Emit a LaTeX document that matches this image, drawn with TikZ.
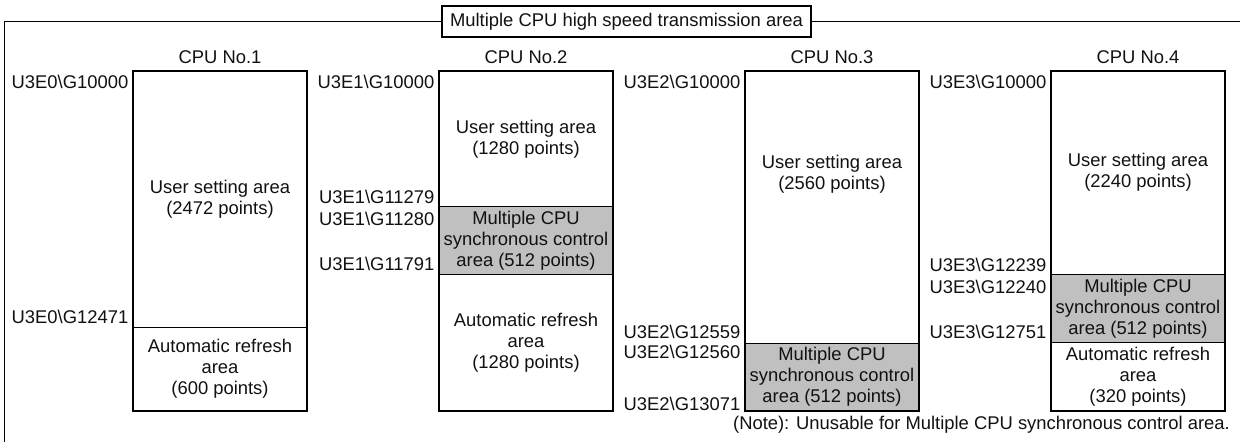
\documentclass[tikz,border=0pt]{standalone}
\usepackage{fontspec}
\setmainfont{Liberation Sans}
\definecolor{syncgray}{HTML}{C0C0C0}
\definecolor{txt}{HTML}{111111}
\newcommand\fs{\fontsize{18.4}{21}\selectfont}
\tikzset{
  region/.style={draw, line width=1pt, minimum width=174, minimum height=#1,
    anchor=north west, inner sep=0pt, outer sep=0pt, align=center, font=\fs, text=txt},
  sync/.style={region=#1, fill=syncgray},
  addr/.style={anchor=base east, inner sep=0pt, font=\fs, text=txt},
  cpulabel/.style={anchor=base, inner sep=0pt, font=\fs, text=txt},
  plain/.style={inner sep=0pt, align=center, font=\fs, text=txt},
  cpubox/.style={draw, line width=2pt},
  frameline/.style={draw, line width=1.4pt},
}
\begin{document}
\begin{tikzpicture}[x=1pt,y=-1pt]
\useasboundingbox (0,0) rectangle (1240,442);

% frame and title
\node[draw, line width=1.2pt, fill=white, minimum width=369, minimum height=31, inner sep=0pt, font=\fs, text=txt] (title) at (626.5,21.5) {Multiple CPU high speed transmission area};
\coordinate (fl) at (4.5,21.5);
\coordinate (fb) at (4.5,442);
\coordinate (fr) at (1240,21.5);
\draw[frameline] (title.west) -- (fl) -- (fb);
\draw[frameline] (title.east) -- (fr);

% CPU No.1
\node[cpulabel] (l1) at (220,63.5) {CPU No.1};
\node[region=256.3] (c1u) at (133,71) {User setting area\\(2472 points)};
\node[region=83.4] (c1a) at (133,327.3) {Automatic refresh\\area\\(600 points)};
\draw[cpubox] (c1u.north west) rectangle (c1a.south east);
\node[addr] (a10) at (128.5,88.3) {U3E0\textbackslash G10000};
\node[addr] (a11) at (128.5,323.3) {U3E0\textbackslash G12471};

% CPU No.2
\node[cpulabel] (l2) at (526,63.5) {CPU No.2};
\node[region=135.7] (c2u) at (439,71) {User setting area\\(1280 points)};
\node[sync=67.6] (c2s) at (439,206.7) {Multiple CPU\\synchronous control\\area (512 points)};
\node[region=136.4] (c2a) at (439,274.3) {Automatic refresh\\area\\(1280 points)};
\draw[cpubox] (c2u.north west) rectangle (c2a.south east);
\node[addr] (a20) at (434.5,88.3) {U3E1\textbackslash G10000};
\node[addr] (a21) at (434.5,203.3) {U3E1\textbackslash G11279};
\node[addr] (a22) at (434.5,225) {U3E1\textbackslash G11280};
\node[addr] (a23) at (434.5,270) {U3E1\textbackslash G11791};

% CPU No.3
\node[cpulabel] (l3) at (832,63.5) {CPU No.3};
\node[region=272.3] (c3u) at (745,71) {};
\node[plain] (c3ut) at (832,174) {User setting area\\(2560 points)};
\node[sync=67.4] (c3s) at (745,343.3) {Multiple CPU\\synchronous control\\area (512 points)};
\draw[cpubox] (c3u.north west) rectangle (c3s.south east);
\node[addr] (a30) at (740.5,88.3) {U3E2\textbackslash G10000};
\node[addr] (a31) at (740.5,338.3) {U3E2\textbackslash G12559};
\node[addr] (a32) at (740.5,358.3) {U3E2\textbackslash G12560};
\node[addr] (a33) at (740.5,410) {U3E2\textbackslash G13071};

% CPU No.4
\node[cpulabel] (l4) at (1138,63.5) {CPU No.4};
\node[region=203.3] (c4u) at (1051,71) {User setting area\\(2240 points)};
\node[sync=68] (c4s) at (1051,274.3) {Multiple CPU\\synchronous control\\area (512 points)};
\node[region=68.4] (c4a) at (1051,342.3) {Automatic refresh\\area\\(320 points)};
\draw[cpubox] (c4u.north west) rectangle (c4a.south east);
\node[addr] (a40) at (1046.5,88.3) {U3E3\textbackslash G10000};
\node[addr] (a41) at (1046.5,271.6) {U3E3\textbackslash G12239};
\node[addr] (a42) at (1046.5,293.3) {U3E3\textbackslash G12240};
\node[addr] (a43) at (1046.5,338.3) {U3E3\textbackslash G12751};

% note
\node[anchor=base east, inner sep=0pt, font=\fs, text=txt] (note) at (1230,429.3) {(Note): Unusable for Multiple CPU synchronous control area.};
\end{tikzpicture}
\end{document}
